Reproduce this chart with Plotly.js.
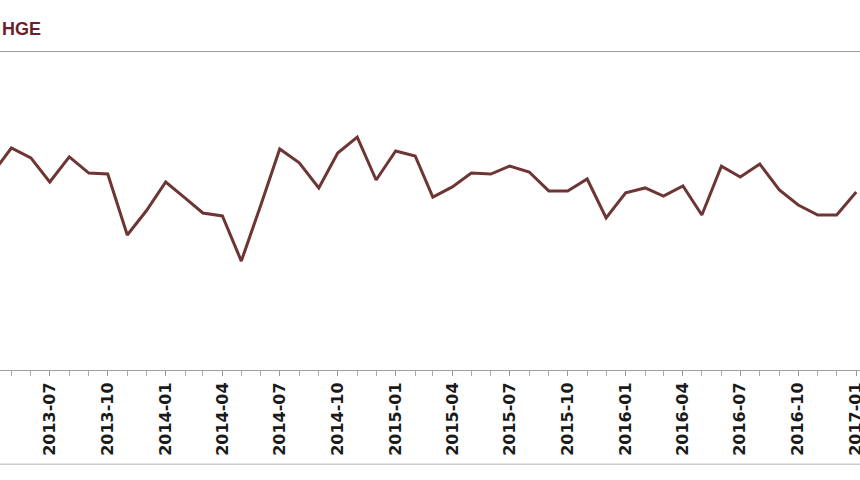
<!DOCTYPE html>
<html>
<head>
<meta charset="utf-8">
<script src="https://cdn.plot.ly/plotly-3.0.1.min.js"></script>
<style>html,body{margin:0;padding:0;background:#fff;}#chart{width:860px;height:480px;}</style>
</head>
<body>
<div id="chart"></div>
<script>
const titleText = "HGE";
const months = [
  "2013-04","2013-05","2013-06","2013-07","2013-08","2013-09","2013-10","2013-11","2013-12",
  "2014-01","2014-02","2014-03","2014-04","2014-05","2014-06","2014-07","2014-08","2014-09","2014-10","2014-11","2014-12",
  "2015-01","2015-02","2015-03","2015-04","2015-05","2015-06","2015-07","2015-08","2015-09","2015-10","2015-11","2015-12",
  "2016-01","2016-02","2016-03","2016-04","2016-05","2016-06","2016-07","2016-08","2016-09","2016-10","2016-11","2016-12",
  "2017-01"
];
const values = [
  9.90, 11.17, 10.67, 9.46, 10.72, 9.91, 9.86, 6.79, 8.00,
  9.46, 8.65, 7.90, 7.75, 5.48, 8.30, 11.12, 10.42, 9.16, 10.92, 11.72, 9.56,
  11.02, 10.77, 8.70, 9.21, 9.91, 9.86, 10.26, 9.96, 9.01, 9.01, 9.61, 7.65,
  8.91, 9.16, 8.75, 9.26, 7.80, 10.26, 9.71, 10.36, 9.06, 8.30, 7.80, 7.80,
  8.96
];
const tickLabels = ["2013-07","2013-10","2014-01","2014-04","2014-07","2014-10","2015-01","2015-04","2015-07","2015-10","2016-01","2016-04","2016-07","2016-10","2017-01"];

const x = months.map(m => m + "-01");
const trace = {
  x: x, y: values, type: "scatter", mode: "lines",
  line: {color: "#6e3535", width: 3},
  hoverinfo: "skip"
};
const layout = {
  width: 860, height: 480,
  margin: {l: 0, r: 0, t: 52, b: 110, pad: 0},
  paper_bgcolor: "#ffffff", plot_bgcolor: "#ffffff",
  showlegend: false,
  xaxis: {
    type: "date",
    range: ["2013-04-13", "2017-01-07"],
    tickvals: tickLabels.map(t => t + "-01"),
    ticktext: tickLabels,
    tickangle: -90,
    ticklabeloverflow: "allow",
    ticks: "outside", ticklen: 5, tickcolor: "#999999", tickwidth: 1,
    minor: {dtick: "M1", tick0: "2013-01-01", ticks: "outside", ticklen: 5, tickcolor: "#aaaaaa", showgrid: false},
    tickfont: {family: "DejaVu Sans", size: 16, color: "#1a1a1a", weight: "bold"},
    showline: true, linecolor: "#a0a0a0", linewidth: 1, mirror: true,
    showgrid: false, zeroline: false, fixedrange: true
  },
  yaxis: {
    range: [0, 16],
    showticklabels: false, ticks: "", showgrid: false, zeroline: false, showline: false, fixedrange: true
  },
  shapes: [
    {type: "line", xref: "paper", yref: "paper", x0: 0, x1: 1, y0: -0.296, y1: -0.296,
     line: {color: "#cccccc", width: 1.5}}
  ],
  annotations: [
    {text: titleText, xref: "paper", yref: "paper", x: 0, y: 1, xanchor: "left", yanchor: "bottom",
     yshift: 11, showarrow: false,
     font: {family: "Liberation Sans", size: 18, color: "#6a1f2b", weight: "bold"}}
  ]
};
Plotly.newPlot("chart", [trace], layout, {staticPlot: true, displayModeBar: false});
</script>
</body>
</html>
